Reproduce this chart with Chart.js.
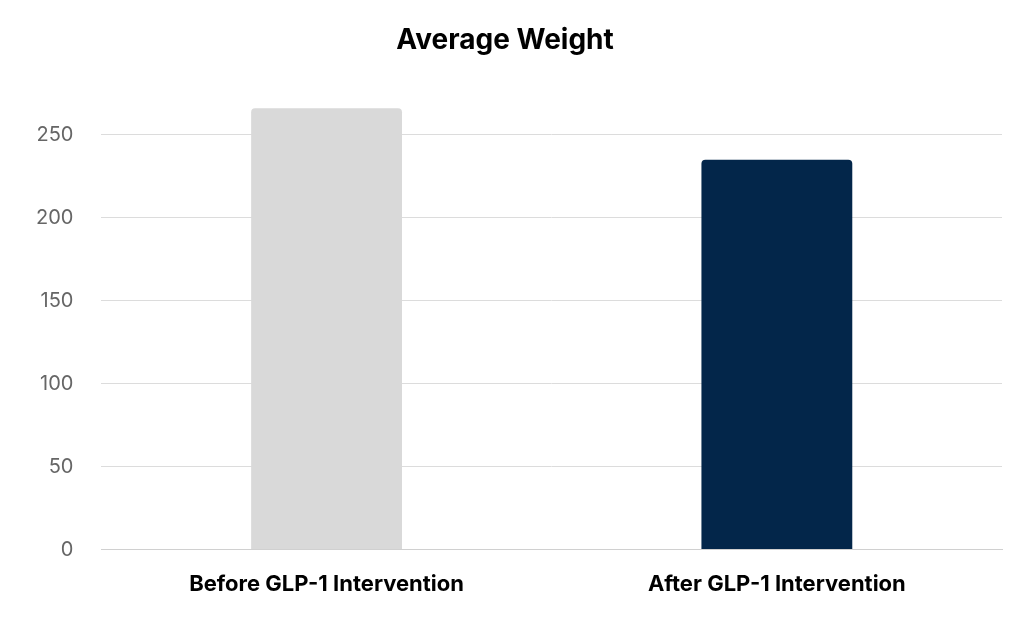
<!DOCTYPE html>
<html><head><meta charset="utf-8">
<script src="https://cdn.jsdelivr.net/npm/chart.js@4"></script>
<style>html,body{margin:0;padding:0;background:#fff}#w{width:1024px;height:624px}</style>
</head><body><div id="w"><canvas id="c"></canvas></div>
<script>
const categories = ["Before GLP-1 Intervention", "After GLP-1 Intervention"];
const weights = [266, 235];
const barColors = ["#d9d9d9", "#03264a"];
const yTicks = [0, 50, 100, 150, 200, 250];

new Chart(document.getElementById('c'), {
  type: 'bar',
  data: { labels: categories, datasets: [{ data: weights, backgroundColor: barColors,
    borderRadius: {topLeft: 4, topRight: 4}, borderSkipped: 'bottom',
    barPercentage: 0.335, categoryPercentage: 1 }] },
  options: {
    responsive: true, maintainAspectRatio: false, animation: false,
    layout: { padding: { left: 8, right: 22, top: 4, bottom: 12 } },
    plugins: {
      legend: { display: false }, tooltip: { enabled: false },
      title: { display: true, text: 'Average Weight', color: '#000',
        font: { family: 'Inter', size: 28, weight: 'bold' }, padding: { top: 20, bottom: 44 } }
    },
    scales: {
      x: { grid: { display: false }, border: { color: '#d0d0d0' },
        ticks: { color: '#000', font: { family: 'Inter', size: 22, weight: 'bold' }, padding: 14 } },
      y: { min: 0, max: 270, afterBuildTicks: ax => { ax.ticks = yTicks.map(v => ({ value: v })); },
        grid: { color: '#dcdcdc', drawTicks: false }, border: { display: false },
        ticks: { color: '#666', font: { family: 'Inter', size: 20 }, padding: 28 } }
    }
  }
});
</script></body></html>
